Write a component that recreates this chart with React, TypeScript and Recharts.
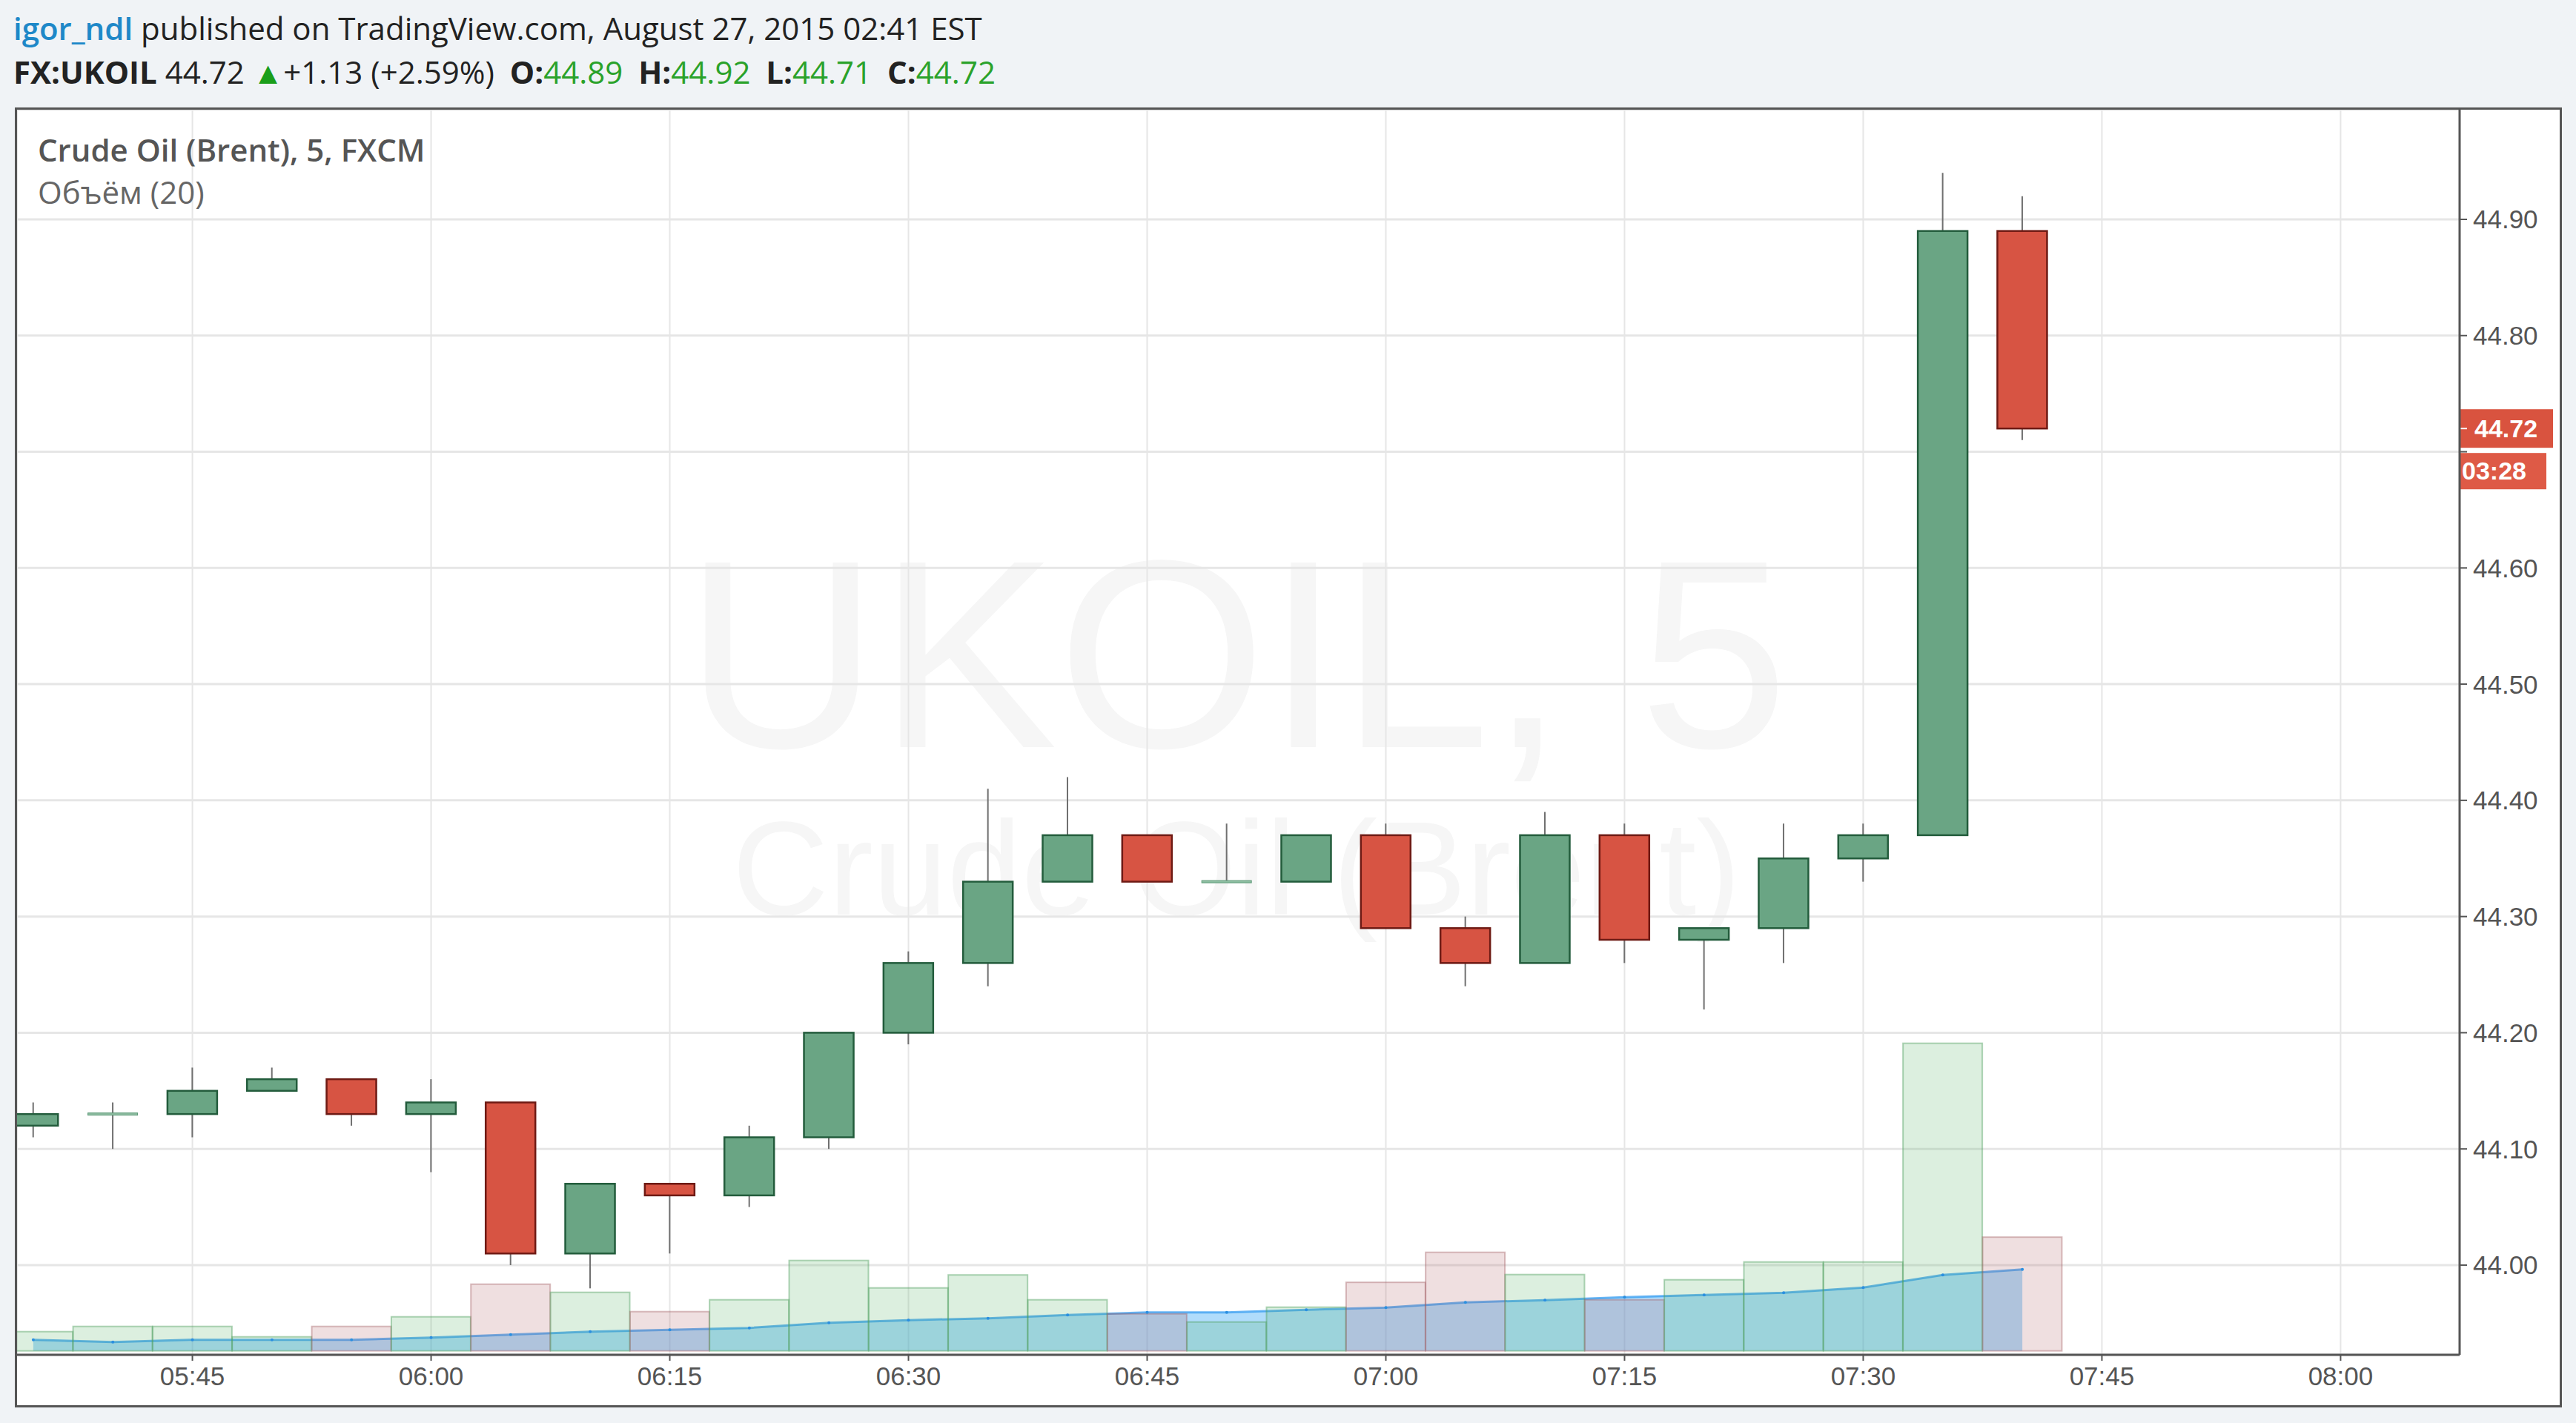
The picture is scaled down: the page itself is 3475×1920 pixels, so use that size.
import {
  ComposedChart,
  Bar,
  Area,
  XAxis,
  YAxis,
  CartesianGrid,
  ReferenceLine,
} from 'recharts';

// 5-minute candles, FX:UKOIL, 27 Aug 2015
const times = [
  '05:35', '05:40', '05:45', '05:50', '05:55', '06:00', '06:05', '06:10', '06:15',
  '06:20', '06:25', '06:30', '06:35', '06:40', '06:45', '06:50', '06:55', '07:00',
  '07:05', '07:10', '07:15', '07:20', '07:25', '07:30', '07:35', '07:40',
];
const opens = [
  44.12, 44.13, 44.13, 44.15, 44.16, 44.13, 44.14, 44.01, 44.07, 44.06, 44.11, 44.2, 44.26,
  44.33, 44.37, 44.33, 44.33, 44.37, 44.29, 44.26, 44.37, 44.28, 44.29, 44.35, 44.37, 44.89,
];
const highs = [
  44.14, 44.14, 44.17, 44.17, 44.16, 44.16, 44.14, 44.07, 44.07, 44.12, 44.2, 44.27, 44.41,
  44.42, 44.37, 44.38, 44.37, 44.38, 44.3, 44.39, 44.38, 44.29, 44.38, 44.38, 44.94, 44.92,
];
const lows = [
  44.11, 44.1, 44.11, 44.15, 44.12, 44.08, 44.0, 43.98, 44.01, 44.05, 44.1, 44.19, 44.24,
  44.33, 44.33, 44.33, 44.33, 44.29, 44.24, 44.26, 44.26, 44.22, 44.26, 44.33, 44.37, 44.71,
];
const closes = [
  44.13, 44.13, 44.15, 44.16, 44.13, 44.14, 44.01, 44.07, 44.06, 44.11, 44.2, 44.26, 44.33,
  44.37, 44.33, 44.33, 44.37, 44.29, 44.26, 44.37, 44.28, 44.29, 44.35, 44.37, 44.89, 44.72,
];
const volumes = [
  52, 66, 66, 38, 66, 92, 180, 158, 106, 138, 244, 170, 205, 138, 100, 78, 118, 185, 266,
  206, 138, 192, 240, 240, 830, 307,
];
// Объём (20) moving average
const volumeMa = [
  30, 24, 30, 30, 30, 36, 44, 52, 57, 62, 76, 83, 88, 97, 104, 104, 111, 117, 131, 137, 145,
  151, 157, 171, 205, 220,
];

const timeTicks = ['05:45', '06:00', '06:15', '06:30', '06:45', '07:00', '07:15', '07:30', '07:45', '08:00'];
const priceTicks = [44.0, 44.1, 44.2, 44.3, 44.4, 44.5, 44.6, 44.7, 44.8, 44.9];

const toMin = (t: string) => {
  const [h, m] = t.split(':').map(Number);
  return h * 60 + m - (5 * 60 + 35);
};
const fmtMin = (v: number) => {
  const total = v + 5 * 60 + 35;
  const h = Math.floor(total / 60);
  const m = total % 60;
  return `${String(h).padStart(2, '0')}:${String(m).padStart(2, '0')}`;
};

const data = times.map((t, i) => ({
  minute: toMin(t),
  open: opens[i],
  high: highs[i],
  low: lows[i],
  close: closes[i],
  volume: volumes[i],
  volumeMa: volumeMa[i],
}));

const X_DOMAIN = [-1.02, 152.48];
const PRICE_DOMAIN = [43.9228, 44.9944];
const VOL_DOMAIN = [-10.6, 3349];

const GREEN = '#6aa584';
const GREEN_EDGE = '#235c3c';
const RED = '#d75443';
const RED_EDGE = '#6e1a14';
const FONT = '"Liberation Sans", Arial, sans-serif';
const TEXT_FONT = '"Open Sans", "Liberation Sans", sans-serif';

const CandleShape = (props: any) => {
  let { x, y, width, height } = props;
  const { payload } = props;
  if (height < 0) {
    y += height;
    height = -height;
  }
  const { open, close, high, low } = payload;
  const k = height / (high - low);
  const cx = x + width / 2;
  const up = close >= open;
  const top = y + (high - Math.max(open, close)) * k;
  const bottom = y + (high - Math.min(open, close)) * k;
  const doji = open === close;
  return (
    <g>
      <line x1={cx} x2={cx} y1={y} y2={y + height} stroke="#707070" strokeWidth={2} />
      {doji ? (
        <rect x={x} y={top - 1.5} width={width} height={3} fill="#8fbfa3" stroke="#5c9877" strokeWidth={1} />
      ) : (
        <rect
          x={x}
          y={top}
          width={width}
          height={bottom - top}
          fill={up ? GREEN : RED}
          stroke={up ? GREEN_EDGE : RED_EDGE}
          strokeWidth={2.5}
        />
      )}
    </g>
  );
};

const VolumeShape = (props: any) => {
  const { x, y, width, height, payload } = props;
  const up = payload.close >= payload.open;
  return (
    <rect
      x={x}
      y={y}
      width={width}
      height={height}
      fill={up ? 'rgba(80,175,95,0.2)' : 'rgba(175,95,100,0.2)'}
      stroke={up ? 'rgba(80,160,95,0.45)' : 'rgba(160,90,95,0.4)'}
      strokeWidth={2}
    />
  );
};

const PriceTag = (props: any) => {
  const { viewBox } = props;
  const x = viewBox.x + viewBox.width;
  const y = viewBox.y;
  return (
    <g>
      <rect x={x} y={y - 26} width={126} height={52} fill="#d9533f" />
      <line x1={x} x2={x + 10} y1={y} y2={y} stroke="#fff" strokeWidth={2} />
      <text x={x + 20} y={y} dy="0.355em" fill="#fff" fontSize={34} fontWeight="bold" fontFamily={FONT}>
        {closes[closes.length - 1].toFixed(2)}
      </text>
      <rect x={x} y={y + 33} width={117} height={49} fill="#de5a46" />
      <text x={x + 3} y={y + 57} dy="0.355em" fill="#fff" fontSize={34} fontWeight="bold" fontFamily={FONT}>
        03:28
      </text>
    </g>
  );
};

const abs = (left: number, top: number, extra: any = {}) => ({
  position: 'absolute' as const,
  left,
  top,
  whiteSpace: 'nowrap' as const,
  ...extra,
});

export default function App() {
  const green = '#2aa22a';
  const gap = { marginLeft: 10 };
  return (
    <div
      style={{
        position: 'absolute',
        left: 0,
        top: 0,
        width: 3475,
        height: 1920,
        background: '#f0f3f6',
        fontFamily: TEXT_FONT,
        overflow: 'hidden',
      }}
    >
      <div style={abs(18, 12, { fontSize: 42, lineHeight: '52px', color: '#222' })}>
        <span style={{ color: '#1e88c8', fontWeight: 600 }}>igor_ndl</span> published on
        TradingView.com, August 27, 2015 02:41 EST
      </div>
      <div style={abs(18, 71, { fontSize: 42, lineHeight: '52px', color: '#222' })}>
        <b>FX:UKOIL</b> 44.72 <span style={{ color: '#1a9e1a' }}>▲</span>+1.13 (+2.59%){' '}
        <b style={gap}>O:</b>
        <span style={{ color: green }}>44.89</span> <b style={gap}>H:</b>
        <span style={{ color: green }}>44.92</span> <b style={gap}>L:</b>
        <span style={{ color: green }}>44.71</span> <b style={gap}>C:</b>
        <span style={{ color: green }}>44.72</span>
      </div>

      {/* chart frame */}
      <div
        style={{
          position: 'absolute',
          left: 20,
          top: 145,
          width: 3436,
          height: 1754,
          border: '3px solid #555',
          boxSizing: 'border-box',
          background: '#fff',
        }}
      />
      <svg style={{ position: 'absolute', left: 0, top: 0 }} width={3475} height={1920}>
        <text x={1668} y={1008} textAnchor="middle" fontSize={362} fill="#f6f6f6" fontFamily={FONT}>
          UKOIL, 5
        </text>
        <text x={1668} y={1234} textAnchor="middle" fontSize={180} fill="#f6f6f6" fontFamily={FONT}>
          Crude Oil (Brent)
        </text>
      </svg>

      <div style={{ position: 'absolute', left: 23, top: 148 }}>
        <ComposedChart
          width={3430}
          height={1748}
          data={data}
          margin={{ top: 0, right: 0, bottom: 0, left: 0 }}
        >
          <CartesianGrid
            xAxisId="price"
            yAxisId="price"
            vertical={false}
            stroke="#e6e6e6"
            strokeWidth={3}
          />
          <CartesianGrid
            xAxisId="price"
            yAxisId="price"
            horizontal={false}
            stroke="#e6e6e6"
            strokeWidth={2}
          />
          <XAxis
            xAxisId="price"
            dataKey="minute"
            type="number"
            domain={X_DOMAIN}
            allowDataOverflow
            ticks={timeTicks.map(toMin)}
            tickFormatter={fmtMin}
            height={68}
            axisLine={{ stroke: '#555', strokeWidth: 3 }}
            tickLine={{ stroke: '#555', strokeWidth: 2 }}
            tickSize={8}
            tickMargin={8}
            tick={{ fill: '#555', fontSize: 35, fontFamily: FONT }}
          />
          <XAxis xAxisId="vol" dataKey="minute" type="number" domain={X_DOMAIN} allowDataOverflow hide />
          <YAxis
            yAxisId="price"
            orientation="right"
            type="number"
            domain={PRICE_DOMAIN}
            allowDataOverflow
            ticks={priceTicks}
            tickFormatter={(v: number) => (Math.abs(v - 44.7) < 0.001 ? '' : v.toFixed(2))}
            width={135}
            axisLine={{ stroke: '#555', strokeWidth: 3 }}
            tickLine={{ stroke: '#555', strokeWidth: 2 }}
            tickSize={10}
            tickMargin={8}
            tick={{ fill: '#555', fontSize: 35, fontFamily: FONT }}
          />
          <YAxis yAxisId="vol" type="number" domain={VOL_DOMAIN} allowDataOverflow hide />
          <Bar
            xAxisId="vol"
            yAxisId="vol"
            dataKey="volume"
            barSize={107}
            shape={VolumeShape}
            isAnimationActive={false}
          />
          <Area
            xAxisId="vol"
            yAxisId="vol"
            dataKey="volumeMa"
            type="linear"
            fill="rgba(80,177,246,0.45)"
            fillOpacity={1}
            stroke="rgba(40,150,240,0.7)"
            strokeWidth={3}
            dot={{ r: 2, fill: '#2b8fe0', stroke: 'none' }}
            isAnimationActive={false}
          />
          <Bar
            xAxisId="price"
            yAxisId="price"
            dataKey={(d: any) => [d.low, d.high]}
            barSize={67}
            shape={CandleShape}
            isAnimationActive={false}
          />
          <ReferenceLine
            xAxisId="price"
            yAxisId="price"
            y={closes[closes.length - 1]}
            stroke="none"
            label={PriceTag}
          />
        </ComposedChart>
      </div>

      <div style={abs(51, 176, { fontSize: 42, lineHeight: '52px', color: '#555', fontWeight: 600 })}>
        Crude Oil (Brent), 5, FXCM
      </div>
      <div style={abs(51, 233, { fontSize: 42, lineHeight: '52px', color: '#666' })}>Объём (20)</div>
    </div>
  );
}
